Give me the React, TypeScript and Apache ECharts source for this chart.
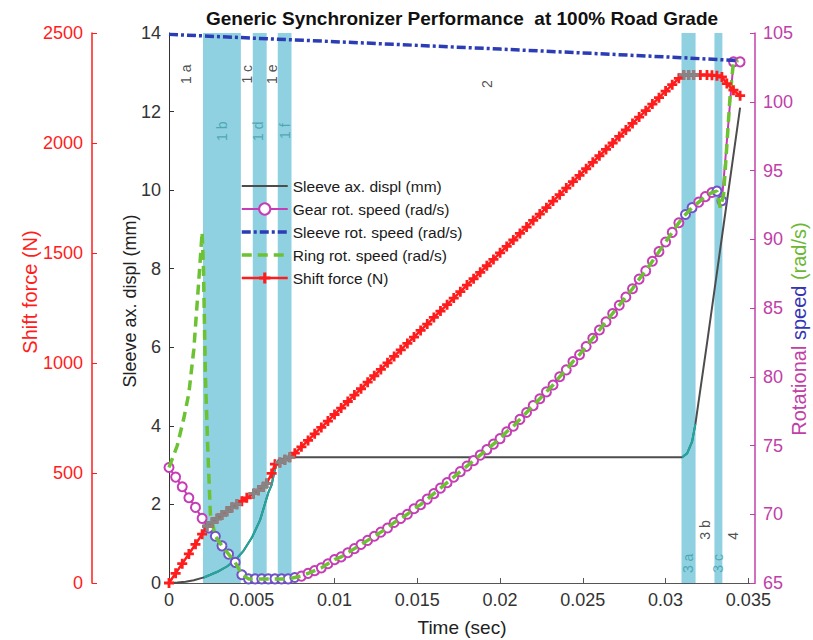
import React, { useEffect, useRef } from 'react';
import * as echarts from 'echarts';

const FONT = '"Liberation Sans", Arial, Helvetica, sans-serif';

// ---------- data ----------
const xTickValues = [0, 0.005, 0.01, 0.015, 0.02, 0.025, 0.03, 0.035];
const X_MAX = 0.0354;

// shaded phase bands (time, s)
const bandRanges: [number, number][] = [
  [0.00205, 0.00434], // 1 b
  [0.00506, 0.0059], // 1 d
  [0.00657, 0.0074], // 1 f
  [0.03096, 0.03181], // 3 a
  [0.03295, 0.03343], // 3 c
];

// phase labels (time, sleeve displ units)
const phaseLabels = [
  { text: '1 a', t: 0.001, y: 12.95, inBand: false },
  { text: '1 b', t: 0.0032, y: 11.5, inBand: true },
  { text: '1 c', t: 0.0047, y: 12.95, inBand: false },
  { text: '1 d', t: 0.00535, y: 11.5, inBand: true },
  { text: '1 e', t: 0.0062, y: 12.95, inBand: false },
  { text: '1 f', t: 0.00698, y: 11.5, inBand: true },
  { text: '2', t: 0.0192, y: 12.7, inBand: false },
  { text: '3 a', t: 0.03138, y: 0.5, inBand: true },
  { text: '3 b', t: 0.0324, y: 1.35, inBand: false },
  { text: '3 c', t: 0.03319, y: 0.5, inBand: true },
  { text: '4', t: 0.0341, y: 1.2, inBand: false },
];

// Sleeve axial displacement (mm)
const sleeveDispl: [number, number][] = [
  [0, 0], [0.0005, 0.01], [0.001, 0.03], [0.0015, 0.07], [0.002, 0.13], [0.0021, 0.14],
  [0.0025, 0.21], [0.003, 0.3], [0.0035, 0.42], [0.004, 0.58], [0.0045, 0.82], [0.005, 1.15],
  [0.0055, 1.6], [0.006, 2.3], [0.0062, 2.5], [0.0064, 2.9], [0.0066, 3.12], [0.007, 3.18],
  [0.0074, 3.2], [0.0075, 3.2], [0.031, 3.2], [0.0313, 3.3], [0.0316, 3.6], [0.0318, 4.05],
  [0.0325, 6.1], [0.033, 7.6], [0.0335, 9.1], [0.034, 10.6], [0.0345, 12.1],
];

// Gear rotational speed (rad/s)
const gearSpeed: [number, number][] = [
  [0, 73.4], [0.0004, 72.7], [0.0008, 72.0], [0.0012, 71.2], [0.0016, 70.5], [0.002, 69.7],
  [0.0024, 69.0], [0.0028, 68.4], [0.0032, 67.7], [0.0036, 67.1], [0.004, 66.5], [0.0044, 65.6],
  [0.0048, 65.3], [0.0052, 65.3], [0.0056, 65.3], [0.006, 65.3], [0.0064, 65.3], [0.0068, 65.3],
  [0.0072, 65.3], [0.0076, 65.4], [0.008, 65.5], [0.0084, 65.7], [0.0088, 65.9], [0.0092, 66.1],
  [0.0096, 66.4], [0.01, 66.7], [0.0104, 66.9], [0.0108, 67.2], [0.0112, 67.5], [0.0116, 67.8],
  [0.012, 68.1], [0.0124, 68.4], [0.0128, 68.7], [0.0132, 69.0], [0.0136, 69.4], [0.014, 69.7],
  [0.0144, 70.0], [0.0148, 70.4], [0.0152, 70.7], [0.0156, 71.1], [0.016, 71.5], [0.0164, 71.9],
  [0.0168, 72.3], [0.0172, 72.7], [0.0176, 73.1], [0.018, 73.5], [0.0184, 73.9], [0.0188, 74.3],
  [0.0192, 74.7], [0.0196, 75.1], [0.02, 75.5], [0.0204, 76.0], [0.0208, 76.4], [0.0212, 76.9],
  [0.0216, 77.4], [0.022, 77.9], [0.0224, 78.4], [0.0228, 78.9], [0.0232, 79.4], [0.0236, 80.0],
  [0.024, 80.5], [0.0244, 81.1], [0.0248, 81.6], [0.0252, 82.2], [0.0256, 82.8], [0.026, 83.4],
  [0.0264, 84.0], [0.0268, 84.6], [0.0272, 85.2], [0.0276, 85.8], [0.028, 86.4], [0.0284, 87.1],
  [0.0288, 87.7], [0.0292, 88.4], [0.0296, 89.1], [0.03, 89.8], [0.0304, 90.5], [0.0308, 91.2],
  [0.0312, 91.8], [0.0316, 92.3], [0.032, 92.7], [0.0324, 93.1], [0.0328, 93.4], [0.0331, 93.5],
  [0.0334, 92.8], [0.0341, 102.9], [0.0345, 102.9],
];

// Sleeve rotational speed (rad/s)
const sleeveSpeed: [number, number][] = [
  [0, 104.9], [0.005, 104.63], [0.01, 104.37], [0.015, 104.1], [0.02, 103.83],
  [0.025, 103.55], [0.03, 103.26], [0.0343, 103.0],
];

// Ring rotational speed (rad/s): own start/end, follows gear in between
const ringStart: [number, number][] = [
  [0, 73.4], [0.0005, 75.0], [0.0009, 77.0], [0.0012, 78.8], [0.0015, 82.0], [0.0018, 87.0],
  [0.002, 90.5], [0.00208, 88.0], [0.0022, 80.0], [0.00235, 74.5], [0.0025, 70.0], [0.0028, 68.4],
];
const ringEnd: [number, number][] = [
  [0.0333, 92.3], [0.0335, 93.2], [0.0339, 100.5], [0.0341, 102.9], [0.0344, 103.0],
];

// Shift force (N)
const shiftForce: [number, number][] = [
  [0, 0], [0.0004, 44], [0.0008, 88], [0.0012, 132], [0.0016, 176], [0.002, 222],
  [0.0023, 258], [0.0026, 275], [0.0029, 292], [0.0032, 309], [0.0035, 326], [0.0038, 343],
  [0.0041, 358], [0.0044, 372], [0.0047, 387], [0.0051, 406], [0.0054, 422], [0.0057, 438],
  [0.0059, 452], [0.0062, 498], [0.0064, 540], [0.0067, 548], [0.007, 560], [0.0073, 572],
  [0.0076, 590], [0.008, 619], [0.0084, 648], [0.0088, 678], [0.0092, 707], [0.0096, 736],
  [0.01, 766], [0.0104, 795], [0.0108, 825], [0.0112, 854], [0.0116, 883], [0.012, 913],
  [0.0124, 942], [0.0128, 971], [0.0132, 1001], [0.0136, 1030], [0.014, 1060], [0.0144, 1089],
  [0.0148, 1118], [0.0152, 1148], [0.0156, 1177], [0.016, 1207], [0.0164, 1236], [0.0168, 1265],
  [0.0172, 1295], [0.0176, 1324], [0.018, 1354], [0.0184, 1383], [0.0188, 1412], [0.0192, 1442],
  [0.0196, 1471], [0.02, 1501], [0.0204, 1530], [0.0208, 1559], [0.0212, 1589], [0.0216, 1618],
  [0.022, 1648], [0.0224, 1677], [0.0228, 1706], [0.0232, 1736], [0.0236, 1765], [0.024, 1795],
  [0.0244, 1824], [0.0248, 1853], [0.0252, 1883], [0.0256, 1912], [0.026, 1942], [0.0264, 1971],
  [0.0268, 2000], [0.0272, 2030], [0.0276, 2059], [0.028, 2089], [0.0284, 2118], [0.0288, 2147],
  [0.0292, 2177], [0.0296, 2206], [0.03, 2236], [0.0304, 2265], [0.0308, 2294], [0.0311, 2309],
  [0.0314, 2309], [0.0317, 2309], [0.0321, 2309], [0.0325, 2309], [0.0328, 2308], [0.0331, 2306],
  [0.0334, 2300], [0.0337, 2270], [0.0341, 2240], [0.0345, 2215],
];

// ---------- styles ----------
const C = {
  displ: '#4d4d4d',
  displBand: '#1fa8a0',
  gear: '#c63cb6',
  gearBand: '#7052c8',
  sleeve: '#2b3cb4',
  ring: '#6cc232',
  force: '#ff1c1c',
  forceBand: '#858585',
  band: '#8fd0e1',
  bandLabel: '#3a9fa8',
  right: '#c040a8',
};

const GRID = { left: 169, right: 58, top: 33, bottom: 57, outerBoundsMode: 'none', containLabel: false };
const W = 813;
const H = 640;

const displRanges: [number, number][] = [[0.0021, 0.0074], [0.031, 0.0318]];
const gearRanges: [number, number][] = [[0.00205, 0.0076], bandRanges[3], bandRanges[4]];
const forceRanges: [number, number][] = bandRanges.slice(0, 4);

function inRanges(t: number, ranges: [number, number][]) {
  return ranges.some(([a, b]) => t >= a && t <= b);
}

const plusPath = 'path://M3.6,0H6.4V3.6H10V6.4H6.4V10H3.6V6.4H0V3.6H3.6Z';
const hidden = { color: 'rgba(0,0,0,0)', borderColor: 'rgba(0,0,0,0)', opacity: 0 };

export default function App() {
  const ref = useRef<HTMLDivElement>(null);

  useEffect(() => {
    if (!ref.current) return;
    const chart = echarts.init(ref.current, null, { renderer: 'svg' });

    const ringMid = gearSpeed.filter((p) => p[0] >= 0.0032 && p[0] <= 0.0331);
    const ringSpeed = [...ringStart, ...ringMid, ...ringEnd];

    const displOverlays = displRanges.map(([a, b], i) => ({
      name: `displ phase ${i}`,
      type: 'line',
      yAxisIndex: 0,
      data: sleeveDispl.filter((p) => p[0] >= a && p[0] <= b),
      symbol: 'none',
      z: 3,
      silent: true,
      lineStyle: { width: 2, color: C.displBand },
      itemStyle: { color: C.displBand },
    }));

    const forceOverlays = forceRanges.map(([a, b], i) => ({
      name: `force phase ${i}`,
      type: 'line',
      yAxisIndex: 1,
      data: shiftForce.filter((p) => p[0] >= a && p[0] <= b),
      symbol: plusPath,
      symbolSize: 10,
      z: 7,
      silent: true,
      lineStyle: { width: 2.5, color: C.forceBand },
      itemStyle: { color: C.forceBand },
    }));

    const option: any = {
      animation: false,
      backgroundColor: '#ffffff',
      textStyle: { fontFamily: FONT },
      graphic: [
        {
          type: 'text',
          x: 462,
          y: 18,
          style: {
            text: 'Generic Synchronizer Performance  at 100% Road Grade',
            font: `bold 19px ${FONT}`,
            fill: '#111',
            textAlign: 'center',
            textVerticalAlign: 'middle',
          },
        },
      ],
      grid: GRID,
      legend: {
        data: [
          { name: 'Sleeve ax. displ (mm)', itemStyle: hidden, lineStyle: { color: C.displ, width: 2 } },
          { name: 'Gear rot. speed (rad/s)', itemStyle: { color: C.gear, borderColor: C.gear }, lineStyle: { color: C.gear, width: 2 } },
          { name: 'Sleeve rot. speed (rad/s)', itemStyle: hidden, lineStyle: { color: C.sleeve, width: 3.5, type: [9, 3, 3, 3] } },
          { name: 'Ring rot. speed (rad/s)', itemStyle: hidden, lineStyle: { color: C.ring, width: 3.5, type: [10, 6] } },
          { name: 'Shift force (N)', itemStyle: { color: C.force }, lineStyle: { color: C.force, width: 2.5 } },
        ],
        orient: 'vertical',
        left: 235,
        top: 173,
        itemWidth: 46,
        itemHeight: 14,
        itemGap: 7,
        textStyle: { fontSize: 15.5, color: '#1a1a1a', fontFamily: FONT },
        backgroundColor: 'transparent',
      },
      xAxis: {
        type: 'value',
        min: 0,
        max: X_MAX,
        interval: 0.005,
        name: 'Time (sec)',
        nameLocation: 'middle',
        nameGap: 35,
        nameMoveOverlap: false,
        nameTextStyle: { fontSize: 19, color: '#222', fontFamily: FONT },
        axisLine: { lineStyle: { color: '#555', width: 1 } },
        axisTick: { inside: true, length: 5, lineStyle: { color: '#555' } },
        axisLabel: {
          fontSize: 18,
          color: '#333',
          margin: 8,
          showMaxLabel: false,
          formatter: (v: number) => (xTickValues.some((t) => Math.abs(t - v) < 1e-9) ? String(+v.toFixed(3)) : ''),
        },
        splitLine: { show: false },
      },
      yAxis: [
        {
          type: 'value',
          position: 'left',
          min: 0,
          max: 14,
          interval: 2,
          name: 'Sleeve ax. displ (mm)',
          nameLocation: 'middle',
          nameGap: 30,
          nameMoveOverlap: false,
          nameRotate: 90,
          nameTextStyle: { fontSize: 18, color: '#222', fontFamily: FONT, padding: [0, 0, 0, 14] },
          axisLine: { show: true, lineStyle: { color: '#333', width: 1 } },
          axisTick: { show: true, inside: true, length: 5, lineStyle: { color: '#333' } },
          axisLabel: { fontSize: 18, color: '#333', margin: 8 },
          splitLine: { show: false },
        },
        {
          type: 'value',
          position: 'left',
          offset: 77,
          min: 0,
          max: 2500,
          interval: 500,
          name: 'Shift force (N)',
          nameLocation: 'middle',
          nameGap: 52,
          nameMoveOverlap: false,
          nameRotate: 90,
          nameTextStyle: { fontSize: 20, color: C.force, fontFamily: FONT, padding: [0, 0, 0, 32] },
          axisLine: { show: true, lineStyle: { color: C.force, width: 1.5 } },
          axisTick: { show: true, inside: true, length: 5, lineStyle: { color: C.force } },
          axisLabel: { fontSize: 18, color: C.force, margin: 9, formatter: (v: number) => String(v) },
          splitLine: { show: false },
        },
        {
          type: 'value',
          position: 'right',
          min: 65,
          max: 105,
          interval: 5,
          name: '{r|Rotational} {s|speed} {g|(rad/s)}',
          nameLocation: 'middle',
          nameGap: 34,
          nameMoveOverlap: false,
          nameRotate: 90,
          nameTextStyle: {
            fontSize: 20,
            fontFamily: FONT,
            padding: [0, 42, 0, 0],
            rich: {
              r: { color: C.right, fontSize: 20, fontFamily: FONT },
              s: { color: '#3434b4', fontSize: 20, fontFamily: FONT },
              g: { color: '#6cb832', fontSize: 20, fontFamily: FONT },
            },
          },
          axisLine: { show: true, lineStyle: { color: C.right, width: 1.5 } },
          axisTick: { show: true, inside: true, length: 5, lineStyle: { color: C.right } },
          axisLabel: { fontSize: 18, color: C.right, margin: 8 },
          splitLine: { show: false },
        },
      ],
      series: [
        {
          name: 'bands',
          type: 'line',
          data: [],
          z: 1,
          silent: true,
          markArea: {
            silent: true,
            itemStyle: { color: C.band, opacity: 1 },
            data: bandRanges.map(([a, b]) => [{ xAxis: a }, { xAxis: b }]),
          },
        },
        {
          name: 'Sleeve ax. displ (mm)',
          type: 'line',
          yAxisIndex: 0,
          data: sleeveDispl,
          showSymbol: false,
          symbol: 'none',
          z: 3,
          lineStyle: { width: 2, color: C.displ },
          itemStyle: { color: C.displ },
        },
        ...displOverlays,
        {
          name: 'Gear rot. speed (rad/s)',
          type: 'line',
          yAxisIndex: 2,
          data: gearSpeed.map((p) => ({
            value: p,
            itemStyle: { color: inRanges(p[0], gearRanges) ? C.gearBand : C.gear },
          })),
          symbol: 'emptyCircle',
          symbolSize: 9,
          z: 4,
          lineStyle: { width: 2, color: C.gear },
          itemStyle: { color: C.gear, borderWidth: 1.8 },
        },
        {
          name: 'Sleeve rot. speed (rad/s)',
          type: 'line',
          yAxisIndex: 2,
          data: sleeveSpeed,
          symbol: 'none',
          z: 5,
          lineStyle: { width: 3.5, color: C.sleeve, type: [9, 3, 3, 3] },
          itemStyle: { color: C.sleeve },
        },
        {
          name: 'Ring rot. speed (rad/s)',
          type: 'line',
          yAxisIndex: 2,
          data: ringSpeed,
          symbol: 'none',
          z: 6,
          lineStyle: { width: 3.5, color: C.ring, type: [10, 6] },
          itemStyle: { color: C.ring },
        },
        {
          name: 'Shift force (N)',
          type: 'line',
          yAxisIndex: 1,
          data: shiftForce,
          symbol: plusPath,
          symbolSize: 10,
          z: 7,
          lineStyle: { width: 2.5, color: C.force },
          itemStyle: { color: C.force },
        },
        ...forceOverlays,
        {
          name: 'phase labels',
          type: 'scatter',
          yAxisIndex: 0,
          z: 8,
          silent: true,
          symbolSize: 1,
          itemStyle: { color: 'rgba(0,0,0,0)' },
          data: phaseLabels.map((p) => ({
            name: p.text,
            value: [p.t, p.y],
            label: { color: p.inBand ? C.bandLabel : '#222' },
          })),
          label: {
            show: true,
            position: 'inside',
            rotate: 90,
            formatter: '{b}',
            fontSize: 14,
            fontFamily: FONT,
          },
        },
      ],
    };

    chart.setOption(option);
    return () => chart.dispose();
  }, []);

  return (
    <div
      ref={ref}
      style={{ position: 'fixed', left: 0, top: 0, width: W, height: H, background: '#fff' }}
    />
  );
}
